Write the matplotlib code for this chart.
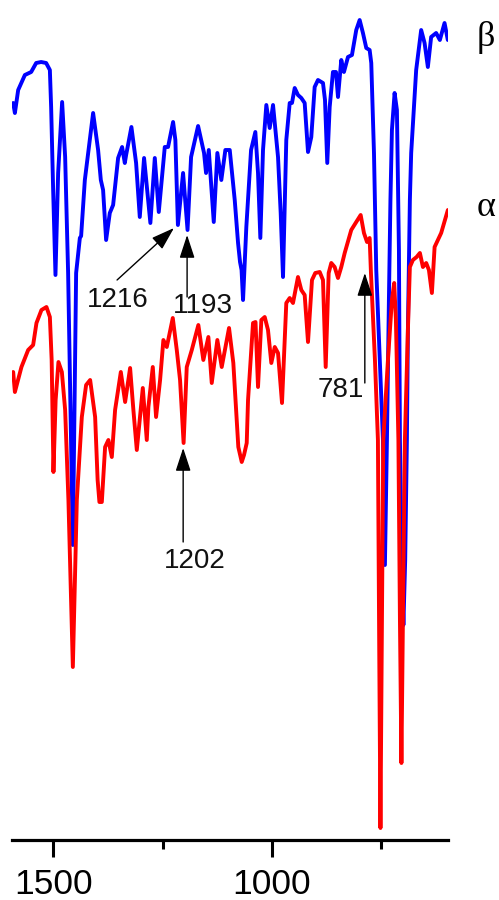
import matplotlib
matplotlib.use("Agg")
import matplotlib.pyplot as plt

# beta form (blue), wavenumber in cm-1 and transmittance in a.u.
wn_beta = [1591.3, 1587.4, 1579.9, 1564.6, 1550.2, 1538.8, 1527.4, 1516.0, 1507.5, 1504.6,
           1500.0, 1494.7, 1488.6, 1479.5, 1472.6, 1465.8, 1455.0, 1447.5, 1439.0, 1436.1,
           1427.6, 1408.7, 1397.3, 1391.1, 1385.9, 1379.0, 1370.6, 1363.0, 1351.6, 1342.5,
           1336.3, 1333.3, 1321.2, 1310.5, 1302.1, 1292.3, 1277.9, 1267.8, 1258.7, 1245.0,
           1237.5, 1226.0, 1220.8, 1215.0, 1203.2, 1193.0, 1184.9, 1168.9, 1155.3, 1150.7,
           1144.5, 1133.1, 1124.9, 1115.8, 1106.6, 1096.6, 1085.2, 1077.6, 1073.1, 1069.6,
           1066.2, 1058.7, 1047.9, 1038.1, 1032.0, 1026.7, 1020.6, 1013.0, 1005.3, 997.7,
           986.3, 980.2, 974.9, 967.4, 959.6, 954.4, 948.2, 940.7, 933.1, 925.4,
           917.8, 910.3, 902.6, 895.0, 883.6, 879.0, 873.8, 868.3, 860.8, 853.9,
           849.3, 841.8, 835.7, 826.5, 817.4, 807.6, 799.8, 792.3, 784.7, 777.0,
           773.3, 767.1, 761.9, 751.2, 746.6, 742.1, 737.5, 733.0, 729.5, 726.1,
           720.0, 714.7, 710.1, 707.8, 703.7, 699.9, 695.8, 691.9, 689.6, 685.1,
           682.1, 670.7, 659.3, 651.5, 644.0, 636.5, 625.1, 616.6, 605.9, 598.4]
t_beta = [73.7, 72.7, 75.0, 76.5, 76.8, 77.7, 77.8, 77.7, 77.0, 73.3,
          65.0, 56.5, 66.7, 73.8, 68.3, 56.7, 29.5, 56.7, 60.2, 60.4,
          66.0, 72.7, 69.0, 66.0, 65.0, 60.0, 62.7, 63.5, 68.2, 69.3,
          67.7, 68.5, 71.3, 67.7, 62.3, 68.2, 61.7, 68.2, 62.8, 69.3,
          69.3, 71.8, 70.0, 61.5, 66.7, 61.0, 68.3, 71.4, 68.7, 66.7,
          69.0, 61.8, 68.7, 66.0, 69.0, 69.0, 64.0, 59.7, 57.8, 57.0,
          54.0, 61.3, 69.0, 70.8, 66.7, 60.2, 69.0, 73.5, 71.2, 73.5,
          68.3, 62.7, 56.3, 70.0, 73.7, 73.7, 75.2, 74.5, 74.2, 73.7,
          68.8, 70.3, 75.3, 76.0, 75.7, 74.0, 67.7, 73.3, 76.8, 76.8,
          74.3, 78.0, 76.8, 78.3, 78.5, 81.0, 82.0, 80.7, 79.2, 79.0,
          77.7, 68.7, 57.0, 45.0, 40.0, 27.5, 40.0, 54.0, 64.0, 71.0,
          74.7, 73.0, 59.0, 40.0, 28.0, 21.5, 28.0, 40.0, 51.0, 64.0,
          68.7, 77.0, 81.0, 79.7, 77.3, 80.3, 80.7, 80.0, 81.7, 80.0]

# alpha form (red)
wn_alpha = [1591.3, 1587.4, 1572.4, 1557.1, 1545.7, 1538.1, 1526.7, 1515.3, 1507.5, 1503.4,
            1499.3, 1494.3, 1487.9, 1480.1, 1472.6, 1465.1, 1455.0, 1445.9, 1434.5, 1424.7,
            1415.5, 1404.1, 1398.4, 1394.3, 1388.8, 1381.3, 1373.8, 1366.0, 1358.5, 1345.4,
            1335.6, 1324.2, 1316.7, 1308.9, 1295.2, 1286.1, 1282.4, 1272.4, 1264.9, 1255.7,
            1248.2, 1240.4, 1226.7, 1217.6, 1210.1, 1202.0, 1194.8, 1183.3, 1168.3, 1156.9,
            1145.4, 1137.7, 1124.9, 1114.9, 1098.2, 1088.4, 1077.0, 1069.2, 1064.0, 1057.8,
            1054.8, 1043.4, 1037.7, 1032.0, 1024.4, 1016.7, 1009.2, 1001.6, 993.8, 986.3,
            977.2, 967.4, 959.6, 952.1, 940.7, 933.1, 925.4, 917.8, 908.7, 901.2,
            891.1, 883.6, 877.4, 870.6, 864.6, 856.9, 849.3, 841.8, 834.0, 819.0,
            807.6, 797.5, 790.0, 783.0, 777.0, 774.0, 764.9, 758.1, 755.1, 752.3,
            749.4, 745.9, 735.2, 726.1, 720.9, 717.0, 711.3, 707.8, 704.4, 701.0,
            696.5, 689.6, 685.1, 678.2, 669.7, 662.2, 655.3, 647.8, 641.6, 634.8,
            628.6, 613.6, 598.3]
t_alpha = [46.8, 44.8, 47.3, 49.0, 49.5, 51.7, 53.0, 53.3, 52.3, 48.0,
           36.8, 44.0, 47.8, 46.8, 43.0, 34.0, 17.3, 34.0, 42.3, 45.5,
           46.0, 42.3, 36.0, 33.8, 33.8, 39.3, 40.0, 38.3, 43.0, 46.8,
           43.8, 47.2, 43.0, 39.0, 45.2, 40.0, 43.3, 47.3, 42.3, 46.0,
           50.0, 49.3, 52.2, 49.0, 46.0, 39.7, 47.3, 49.0, 51.5, 48.0,
           50.3, 45.7, 50.0, 47.3, 51.2, 47.7, 39.3, 37.8, 38.5, 39.7,
           44.0, 51.7, 51.8, 45.3, 52.0, 52.3, 51.0, 47.7, 49.3, 48.7,
           43.7, 53.7, 54.2, 53.7, 56.3, 55.0, 54.5, 49.8, 56.0, 56.7,
           56.8, 56.0, 47.3, 56.7, 57.7, 57.3, 56.2, 57.3, 58.7, 61.0,
           61.8, 62.5, 60.7, 59.8, 60.2, 56.7, 48.0, 40.0, 19.0, 1.2,
           19.0, 40.0, 48.0, 54.0, 55.7, 52.0, 40.0, 22.0, 7.7, 22.0,
           40.0, 51.0, 57.3, 58.0, 58.3, 58.7, 57.3, 57.7, 57.0, 54.7,
           59.3, 60.7, 63.0]

# marked bands: label, arrow tip (wn, T), arrow tail (wn, T), label centre (wn, T)
marks = [
    ("1216", (1224, 61.2), (1354, 56.0), (1352, 54.0)),
    ("1193", (1194, 60.5), (1194, 54.3), (1158, 53.4)),
    ("1202", (1203, 39.2), (1203, 29.8), (1176, 27.9)),
    ("781", (788, 56.7), (788, 45.7), (843, 45.0)),
]

fig = plt.figure(figsize=(4.99, 9.0), dpi=100)
ax = fig.add_axes([12 / 499, 60 / 900, 436 / 499, 840 / 900])

ax.plot(wn_beta, t_beta, color="#0000ff", lw=2.8,
        solid_joinstyle="round", solid_capstyle="round")
ax.plot(wn_alpha, t_alpha, color="#ff0000", lw=2.8,
        solid_joinstyle="round", solid_capstyle="round")

for lab, tip, tail, pos in marks:
    ax.annotate("", xy=tip, xytext=tail,
                arrowprops=dict(arrowstyle="-|>,head_length=0.55,head_width=0.18",
                                mutation_scale=26, color="black", lw=1.0,
                                shrinkA=0, shrinkB=0))
    ax.text(pos[0], pos[1], lab, ha="center", va="center", fontsize=20,
            family="Liberation Sans", color="#111111")

ax.set_xlim(1594, 598)
ax.set_ylim(0, 84)
for s in ["top", "left", "right"]:
    ax.spines[s].set_visible(False)
ax.spines["bottom"].set_linewidth(2.3)
ax.set_yticks([])
ax.set_xticks([1500, 1000])
ax.set_xticks([1250, 750], minor=True)
ax.tick_params(axis="x", which="major", length=12, width=2.2, pad=8,
               labelsize=25.5, labelfontfamily="Liberation Sans")
ax.tick_params(axis="x", which="minor", length=6.5, width=2.2)

fig.text(486 / 499, 1 - 38 / 900, "β", ha="center", va="center",
         fontsize=26, family="Liberation Serif")
fig.text(486 / 499, 1 - 207 / 900, "α", ha="center", va="center",
         fontsize=26, family="Liberation Serif")

fig.savefig("out.png", dpi=100)
